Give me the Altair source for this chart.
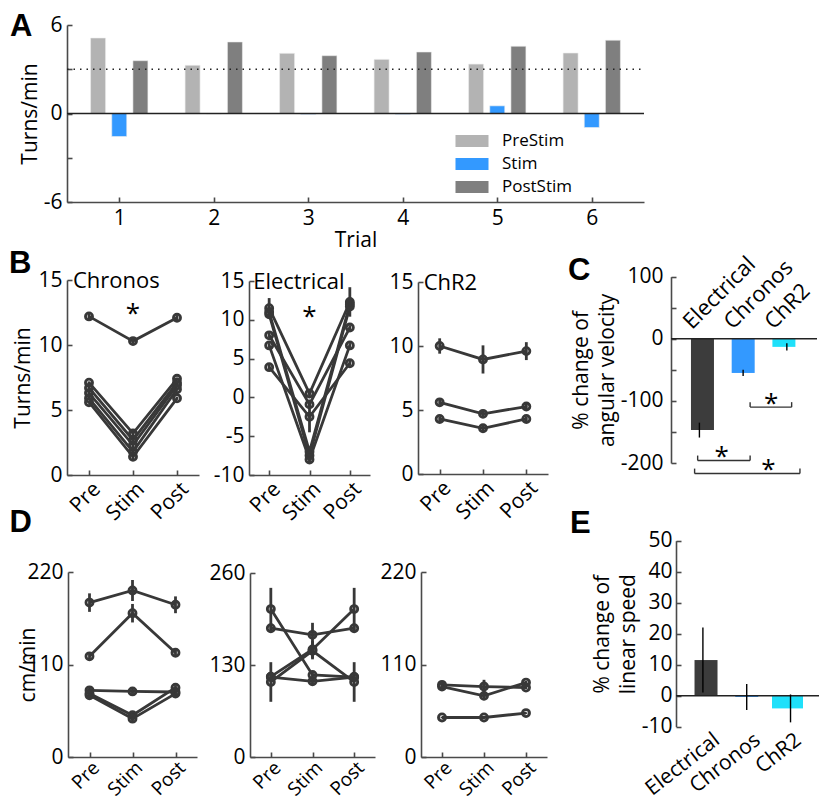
import altair as alt
import pandas as pd

W, H = 812, 793
FONT = "Open Sans"
LETTER_FONT = "Liberation Sans"
INK = "#383838"
AXIS_INK = "#4a4a4a"
TICK = alt.ExprRef(expr="-5")

# ---------------- Panel A : turns per trial ----------------
trials = [1, 2, 3, 4, 5, 6]
conditions = ["PreStim", "Stim", "PostStim"]
condition_colors = ["#b3b3b3", "#3399ff", "#7f7f7f"]
prestim_turns = [5.12, 3.27, 4.08, 3.67, 3.35, 4.10]
stim_turns = [-1.56, -0.03, -0.05, -0.05, 0.52, -0.95]
poststim_turns = [3.58, 4.85, 3.92, 4.17, 4.56, 4.97]
reference_turns = [3.0]
a_yticks = [-6, -3, 0, 3, 6]

# ---------------- Panels B and D : per-animal lines ----------------
phases = ["Pre", "Stim", "Post"]
line_groups = ["Chronos", "Electrical", "ChR2"]

chronos_turns = [[12.2, 10.3, 12.1], [7.1, 3.2, 7.4], [6.7, 2.7, 7.1],
                 [6.3, 2.3, 6.9], [5.9, 1.8, 6.6], [5.6, 1.4, 5.9]]
chronos_turns_err = [[0.2, 0.2, 0.2], [0.1, 0.2, 0.1], [0.1, 0.2, 0.1],
                     [0.1, 0.2, 0.1], [0.1, 0.2, 0.1], [0.1, 0.2, 0.1]]
electrical_turns = [[11.5, 0.5, 12.3], [10.7, -7.5, 11.7], [8.0, -0.9, 9.0],
                    [6.7, -8.0, 6.7], [3.9, -2.5, 4.4], [11.0, -7.0, 12.0]]
electrical_turns_err = [[1.3, 0.3, 1.9], [0.3, 0.5, 0.3], [0.3, 0.4, 0.3],
                        [0.3, 0.5, 0.3], [0.3, 2.0, 0.3], [0.3, 0.5, 0.3]]
chr2_turns = [[10.0, 8.95, 9.6], [5.6, 4.7, 5.27], [4.3, 3.57, 4.3]]
chr2_turns_err = [[0.6, 1.1, 0.7], [0.2, 0.3, 0.2], [0.2, 0.3, 0.2]]
turns_stars = [12.4, 10.3, None]

chronos_speed = [[183.6, 198, 181], [119.7, 171, 124], [79.3, 78, 77.3],
                 [75.4, 49.6, 82.5], [73.4, 45.6, 75.4]]
chronos_speed_err = [[11, 12.5, 10], [5, 11, 5], [3, 3, 3], [3, 4, 3], [3, 4, 3]]
electrical_speed = [[209, 116, 113], [182, 172.6, 182], [113.5, 152, 209],
                    [106, 150, 106], [113, 107, 113]]
electrical_speed_err = [[30, 4, 4], [4, 17, 4], [4, 12, 30], [28, 12, 28], [4, 4, 4]]
chr2_speed = [[85.8, 83.8, 82.6], [83.8, 72.7, 88.5], [47, 47, 52.2]]
chr2_speed_err = [[2, 8, 2], [2, 5, 2], [1, 1, 1]]

# ---------------- Panels C and E : % change bars ----------------
bar_groups = ["Electrical", "Chronos", "ChR2"]
bar_colors = ["#3c3c3c", "#3399ff", "#1fe0fa"]
angular_change = [-147, -55, -13]
angular_err = [12, 5, 6]
linear_change = [11.5, -0.4, -4.1]
linear_err = [10.5, 4.2, 4.5]
sig_start = [2.16, 0.96, 0.89]
sig_end = [3.11, 2.16, 3.30]
sig_level = [-110, -196, -217]
sig_star_at = [2.64, 1.51, 2.58]

panel_letters = ["A", "B", "C", "D", "E"]

LABEL_SIZE = 21
TITLE_SIZE = 21


def y_axis(x0, values, title, label_expr="'' + datum.value", title_padding=4,
           label_padding=10):
    return alt.Axis(orient="left", offset=-x0, values=values, title=title,
                    labelExpr=label_expr, tickSize=TICK, labelPadding=label_padding,
                    titlePadding=title_padding, labelOverlap=False, grid=False)


def letter_unit(letter, x_type, x_value, y_value, xs, ys, dx, dy):
    df = pd.DataFrame({"letter": [letter], "xv": [x_value], "yv": [y_value]})
    return alt.Chart(df).mark_text(
        align="left", baseline="alphabetic", font=LETTER_FONT, fontWeight="bold",
        fontSize=31, color="black", dx=dx, dy=dy
    ).encode(
        x=alt.X(f"xv:{x_type}", scale=xs, axis=None),
        y=alt.Y("yv:Q", scale=ys, axis=None),
        text="letter:N",
    )


units = []

# ---------------- Panel A ----------------
dfA = pd.DataFrame({
    "trial": trials * 3,
    "condition": [c for c in conditions for _ in trials],
    "value": prestim_turns + stim_turns + poststim_turns,
})
xsA = alt.Scale(domain=[0.5, 6.5], range=[59, 636], nice=False, zero=False)
ysA = alt.Scale(domain=[-6, 6], range=[194, 17], nice=False, zero=False)

units.append(alt.Chart(dfA).transform_calculate(
    xpos="datum.trial + (datum.condition == 'PreStim' ? -0.224 : datum.condition == 'PostStim' ? 0.224 : 0)"
).mark_bar(size=15, orient="vertical", stroke="#eeeeee", strokeWidth=0.6).encode(
    x=alt.X("xpos:Q", scale=xsA, axis=alt.Axis(
        orient="bottom", offset=194 - H, values=trials, title="Trial", format="d",
        tickSize=TICK, labelPadding=10, titlePadding=1, labelOverlap=False, grid=False)),
    y=alt.Y("value:Q", scale=ysA, axis=y_axis(59, a_yticks, "Turns/min",
            "abs(datum.value) == 3 ? '' : '' + datum.value", title_padding=3)),
    color=alt.Color("condition:N", scale=alt.Scale(domain=conditions, range=condition_colors),
                    legend=alt.Legend(orient="none", legendX=452, legendY=121, title=None,
                                      symbolType="M-1.4,-0.5H1.4V0.5H-1.4Z", symbolSize=556,
                                      symbolStrokeWidth=0, symbolOpacity=1, rowPadding=3,
                                      labelOffset=18, labelFont=FONT, labelFontSize=17,
                                      labelColor="black")),
))
for lvl, dash in ((0, [1, 0]), (reference_turns[0], [1.5, 5])):
    units.append(alt.Chart(pd.DataFrame({"y": [lvl], "xa": [0.5], "xb": [6.5]})).mark_rule(
        color="#222", strokeWidth=1.4, strokeDash=dash).encode(
        x=alt.X("xa:Q", scale=xsA, axis=None), x2="xb:Q",
        y=alt.Y("y:Q", scale=ysA, axis=None)))
units.append(letter_unit(panel_letters[0], "Q", 0.5, 6, xsA, ysA, -57, 11))


# ---------------- line panels ----------------
def line_panel(values, errors, name, xr, yr, ydom, yticks, ytitle=None, star=None,
               letter=None, letter_d=(0, 0), title_padding=4, xlabel_size=21,
               xlabel_pad=8):
    rows = []
    for i, (vals, errs) in enumerate(zip(values, errors)):
        for ph, v, e in zip(phases, vals, errs):
            rows.append({"animal": i, "phase": ph, "value": v, "err": e})
    df = pd.DataFrame(rows)
    xs = alt.Scale(type="point", domain=phases, range=xr, padding=0.5)
    ys = alt.Scale(domain=ydom, range=yr, nice=False, zero=False)
    x_ax = alt.Axis(orient="bottom", offset=yr[0] - H, title=None, labelAngle=-45,
                    labelAlign="right", labelBaseline="top", tickSize=TICK,
                    labelPadding=xlabel_pad, labelFontSize=xlabel_size, labelOverlap=False,
                    grid=False)
    base = alt.Chart(df)
    out = []
    out.append(base.mark_line(color=INK, strokeWidth=2.8).encode(
        x=alt.X("phase:O", scale=xs, axis=x_ax),
        y=alt.Y("value:Q", scale=ys, axis=y_axis(xr[0], yticks, ytitle,
                                                 title_padding=title_padding)),
        detail="animal:N"))
    out.append(base.transform_calculate(
        lo="datum.value - datum.err", hi="datum.value + datum.err"
    ).mark_rule(color=INK, strokeWidth=2.8).encode(
        x=alt.X("phase:O", scale=xs, axis=None), y=alt.Y("lo:Q", scale=ys, axis=None),
        y2="hi:Q"))
    out.append(base.mark_point(shape="circle", filled=False, size=50, strokeWidth=2.8,
                               color=INK, opacity=1).encode(
        x=alt.X("phase:O", scale=xs, axis=None), y=alt.Y("value:Q", scale=ys, axis=None)))
    if name:
        name_df = pd.DataFrame({"phase": [phases[0]], "yv": [ydom[1]], "name": [name]})
        out.append(alt.Chart(name_df).mark_text(
            align="left", baseline="middle", dx=-16, dy=1, font=FONT, fontSize=22,
            color="black"
        ).encode(x=alt.X("phase:O", scale=xs, axis=None),
                 y=alt.Y("yv:Q", scale=ys, axis=None), text="name:N"))
    if star is not None:
        sdf = pd.DataFrame({"phase": [phases[1]], "yv": [star], "t": ["*"]})
        out.append(alt.Chart(sdf).mark_text(
            baseline="middle", font=FONT, fontSize=26, color="black"
        ).encode(x=alt.X("phase:O", scale=xs, axis=None),
                 y=alt.Y("yv:Q", scale=ys, axis=None), text="t:N"))
    if letter is not None:
        out.append(letter_unit(letter, "O", phases[0], ydom[1], xs, ys,
                               letter_d[0], letter_d[1]))
    return out


units += line_panel(chronos_turns, chronos_turns_err, line_groups[0], [59, 191], [467, 272],
                    [0, 15], [0, 5, 10, 15], "Turns/min", turns_stars[0],
                    panel_letters[1], (-80, -7), title_padding=4)
units += line_panel(electrical_turns, electrical_turns_err, line_groups[1], [241, 362],
                    [467, 273], [-10, 15], [-10, -5, 0, 5, 10, 15], None, turns_stars[1])
units += line_panel(chr2_turns, chr2_turns_err, line_groups[2], [410, 540], [466, 274],
                    [0, 15], [0, 5, 10, 15], None, turns_stars[2])

units += line_panel(chronos_speed, chronos_speed_err, "", [60, 189], [749, 564],
                    [0, 220], [0, 110, 220], "cm/min", None,
                    panel_letters[3], (-80, -40), title_padding=-12, xlabel_size=19,
                    xlabel_pad=6)
units += line_panel(electrical_speed, electrical_speed_err, "", [242, 367], [749, 565],
                    [0, 260], [0, 130, 260], None, None, xlabel_size=19, xlabel_pad=6)
units += line_panel(chr2_speed, chr2_speed_err, "", [413, 539], [749, 564],
                    [0, 220], [0, 110, 220], None, None, xlabel_size=19, xlabel_pad=6)


# ---------------- bar panels ----------------
def bar_panel(change, err, xdom, xr, ydom, yr, yticks, ytitle, label_expr, top_axis,
              letter, letter_d, brackets=False, wide_group=None):
    df = pd.DataFrame({"group": bar_groups, "pos": list(range(1, len(bar_groups) + 1)),
                       "change": change, "err": err})
    xs = alt.Scale(domain=xdom, range=xr, nice=False, zero=False)
    ys = alt.Scale(domain=ydom, range=yr, nice=False, zero=False)
    names = "['', " + ", ".join(f"'{g}'" for g in bar_groups) + "][datum.value]"
    zero_px = yr[0] + (yr[1] - yr[0]) * (0 - ydom[0]) / (ydom[1] - ydom[0])
    if top_axis:
        x_ax = alt.Axis(orient="top", offset=-zero_px, values=[1, 2, 3], labelExpr=names,
                        title=None, domain=False, ticks=False, labelAngle=-45,
                        labelAlign="left", labelBaseline="alphabetic", labelPadding=9,
                        labelOffset=-11, labelFontSize=22, labelOverlap=False, grid=False)
    else:
        x_ax = alt.Axis(orient="bottom", offset=yr[0] - H, values=[1, 2, 3], labelExpr=names,
                        title=None, domain=False, ticks=False, labelAngle=-38,
                        labelAlign="right", labelBaseline="top", labelPadding=2,
                        labelOffset=4, labelFontSize=21, labelOverlap=False, grid=False)
    if wide_group:
        bar_size = alt.condition(f"datum.group == '{wide_group}'", alt.value(31), alt.value(23))
    else:
        bar_size = alt.value(23)
    out = []
    out.append(alt.Chart(df).mark_bar(orient="vertical").encode(
        x=alt.X("pos:Q", scale=xs, axis=x_ax),
        y=alt.Y("change:Q", scale=ys, axis=y_axis(xr[0], yticks, ytitle, label_expr,
                                                  title_padding=3,
                                                  label_padding=13 if top_axis else 9)),
        color=alt.Color("group:N", scale=alt.Scale(domain=bar_groups, range=bar_colors),
                        legend=None),
        size=bar_size))
    out.append(alt.Chart(pd.DataFrame({"y": [0], "xa": [xdom[0]], "xb": [xdom[1]]})).mark_rule(
        color="#222", strokeWidth=1.4).encode(
        x=alt.X("xa:Q", scale=xs, axis=None), x2="xb:Q", y=alt.Y("y:Q", scale=ys, axis=None)))
    out.append(alt.Chart(df).transform_calculate(
        lo="datum.change - datum.err", hi="datum.change + datum.err"
    ).mark_rule(color="black", strokeWidth=1.4).encode(
        x=alt.X("pos:Q", scale=xs, axis=None), y=alt.Y("lo:Q", scale=ys, axis=None),
        y2="hi:Q"))
    if brackets:
        bdf = pd.DataFrame({"xa": sig_start, "xb": sig_end, "lvl": sig_level,
                            "star": sig_star_at})
        out.append(alt.Chart(bdf).mark_rule(color="#333", strokeWidth=1.4).encode(
            x=alt.X("xa:Q", scale=xs, axis=None), x2="xb:Q",
            y=alt.Y("lvl:Q", scale=ys, axis=None)))
        for end in ("xa", "xb"):
            out.append(alt.Chart(bdf).transform_calculate(tip="datum.lvl + 8").mark_rule(
                color="#333", strokeWidth=1.4).encode(
                x=alt.X(f"{end}:Q", scale=xs, axis=None),
                y=alt.Y("lvl:Q", scale=ys, axis=None), y2="tip:Q"))
        out.append(alt.Chart(bdf).transform_calculate(
            sy="datum.lvl + 5", t="'*'"
        ).mark_text(baseline="middle", font=FONT, fontSize=26, color="black").encode(
            x=alt.X("star:Q", scale=xs, axis=None), y=alt.Y("sy:Q", scale=ys, axis=None),
            text="t:N"))
    out.append(letter_unit(letter, "Q", xdom[0], ydom[1], xs, ys, letter_d[0], letter_d[1]))
    return out


units += bar_panel(angular_change, angular_err, [0.35, 3.69], [663, 809], [-200, 100],
                   [455, 268.7], [-200, -150, -100, -50, 0, 50, 100],
                   ["% change of", "angular velocity"],
                   "datum.value % 100 == 0 ? '' + datum.value : ''", True,
                   panel_letters[2], (-103, 3), brackets=True)
units += bar_panel(linear_change, linear_err, [0.386, 3.65], [668, 811], [-10, 50],
                   [718.7, 532.7], [-10, 0, 10, 20, 30, 40, 50],
                   ["% change of", "linear speed"], "'' + datum.value", False,
                   panel_letters[4], (-106, -8), wide_group=bar_groups[2])

chart = alt.layer(*units).resolve_scale(
    x="independent", y="independent", color="independent"
).properties(
    width=W, height=H, padding=0, autosize=alt.AutoSizeParams(type="none")
).configure_axis(
    labelFont=FONT, labelFontSize=LABEL_SIZE, labelColor="black",
    titleFont=FONT, titleFontSize=TITLE_SIZE, titleFontWeight="normal", titleColor="black",
    titleLineHeight=26, domainColor=AXIS_INK, domainWidth=1.6, tickColor=AXIS_INK,
    tickWidth=1.6, grid=False
).configure_view(stroke=None)

chart.save("out.html", embed_options={"renderer": "svg", "actions": False})
